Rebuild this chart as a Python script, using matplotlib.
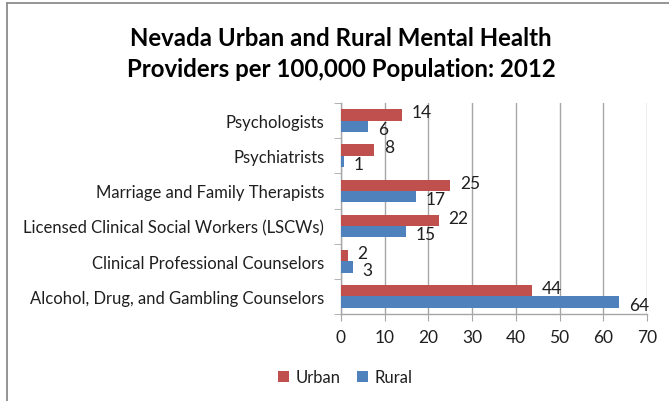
import matplotlib
matplotlib.use("Agg")
import matplotlib.pyplot as plt
from matplotlib.lines import Line2D
import numpy as np

categories = ["Psychologists", "Psychiatrists", "Marriage and Family Therapists",
              "Licensed Clinical Social Workers (LSCWs)", "Clinical Professional Counselors",
              "Alcohol, Drug, and Gambling Counselors"]
urban = [13.9, 7.6, 25.0, 22.4, 1.6, 43.7]
rural = [6.2, 0.6, 17.2, 14.9, 2.7, 63.6]
urban_labels = ["14", "8", "25", "22", "2", "44"]
rural_labels = ["6", "1", "17", "15", "3", "64"]
xticks = [0, 10, 20, 30, 40, 50, 60, 70]
title = "Nevada Urban and Rural Mental Health\nProviders per 100,000 Population: 2012"

RED = "#C0504D"
BLUE = "#4F81BD"
GRID = "#A6A6A6"
TXT = "#1F1F1F"
FONT = ["Lato", "DejaVu Sans"]

plt.rcParams["font.family"] = FONT

W, H = 669, 402
fig = plt.figure(figsize=(W / 100, H / 100), dpi=100)
fig.patch.set_facecolor("white")

# outer frame
fig.add_artist(Line2D([7 / W, 7 / W], [0, 1 - 4 / H], transform=fig.transFigure,
                      color="#8C8C8C", lw=1.3))
fig.add_artist(Line2D([7 / W, 1.0], [1 - 4 / H, 1 - 4 / H], transform=fig.transFigure,
                      color="#8C8C8C", lw=1.3))

ax = fig.add_axes([341 / W, 1 - 315 / H, (647 - 341) / W, (315 - 104) / H])

n = len(categories)
y = np.arange(n)
bh = 0.32
ax.barh(y - bh / 2, urban, height=bh, color=RED, label="Urban", zorder=3)
ax.barh(y + bh / 2, rural, height=bh, color=BLUE, label="Rural", zorder=3)

for i in range(n):
    ax.annotate(urban_labels[i], (urban[i], y[i] - bh / 2), xytext=(7, 2),
                textcoords="offset points", ha="left", va="center",
                fontsize=12.5, color=TXT)
    ax.annotate(rural_labels[i], (rural[i], y[i] + bh / 2), xytext=(7, -2),
                textcoords="offset points", ha="left", va="center",
                fontsize=12.5, color=TXT)

ax.set_xlim(0, 70)
ax.set_ylim(n - 0.5, -0.5)
ax.set_xticks(xticks)
ax.set_xticklabels([str(t) for t in xticks], fontsize=12.5, color=TXT)
ax.set_yticks(y)
ax.set_yticklabels(categories, fontsize=12, color=TXT)
ax.tick_params(axis="y", length=0, pad=12)
ax.set_yticks(np.arange(-0.5, n, 1), minor=True)
ax.tick_params(axis="y", which="minor", length=5, color=GRID, direction="out")
ax.tick_params(axis="x", length=5, color=GRID, direction="out", pad=6)
ax.grid(axis="x", color=GRID, lw=1, zorder=0)
for s in ["top", "right"]:
    ax.spines[s].set_visible(False)
for s in ["left", "bottom"]:
    ax.spines[s].set_color(GRID)
    ax.spines[s].set_linewidth(1)

fig.text(341 / W, 1 - 54 / H, title, fontsize=17.3, fontweight="bold", ha="center",
         va="center", color="black", linespacing=1.42)

handles, labels = ax.get_legend_handles_labels()
fig.legend(handles, labels, loc="center", bbox_to_anchor=(345 / W, 1 - 378 / H),
           ncol=2, frameon=False, fontsize=12, handlelength=0.65, handleheight=0.65,
           handletextpad=0.4, columnspacing=1.0, labelcolor=TXT)

fig.savefig("out.png", dpi=100, facecolor="white")
